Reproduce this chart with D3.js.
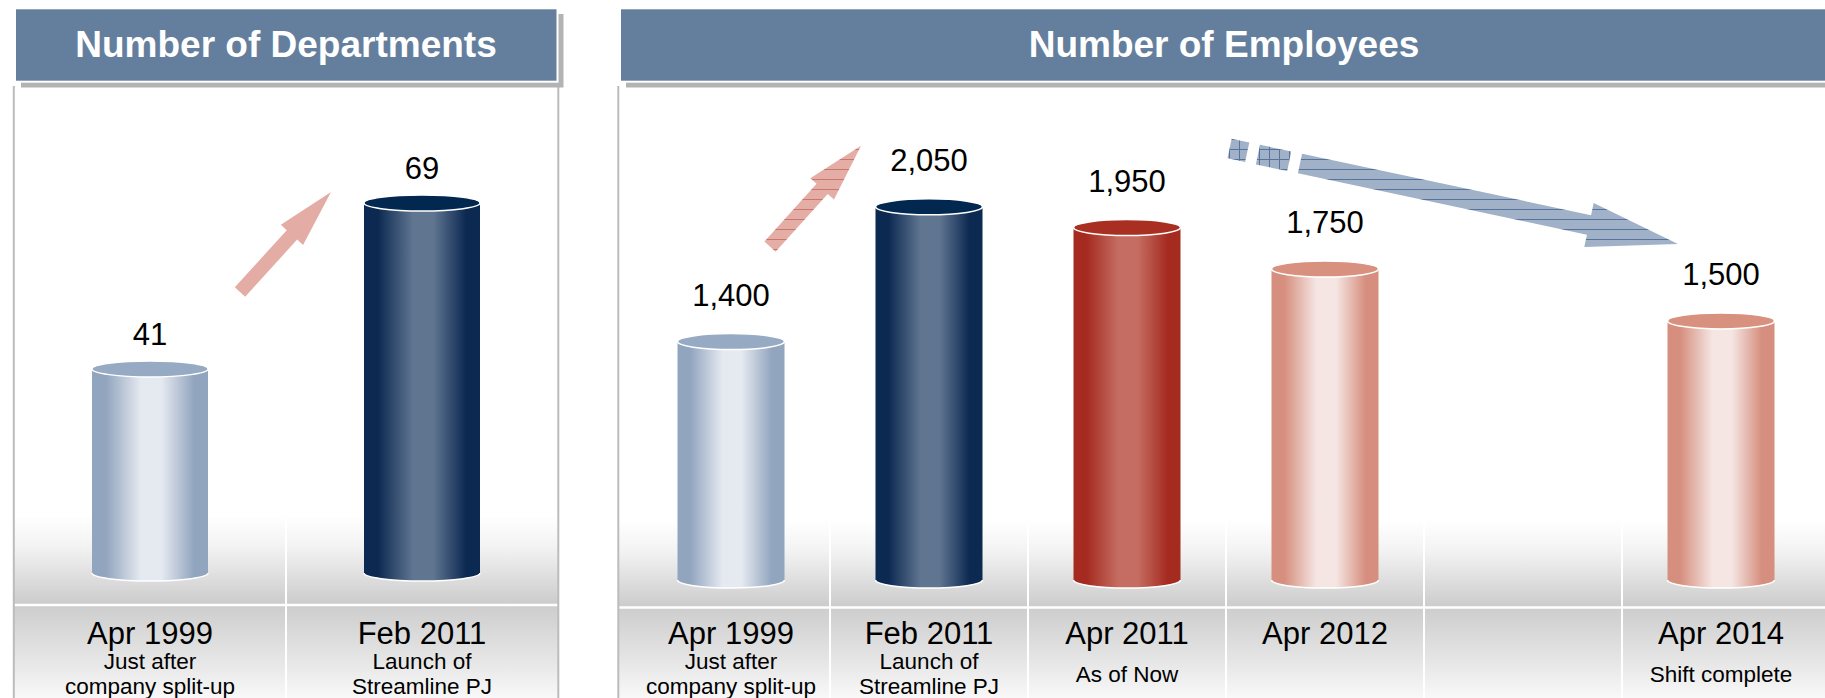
<!DOCTYPE html>
<html lang="en">
<head>
<meta charset="UTF-8">
<title>Departments and Employees</title>
<script src="https://cdnjs.cloudflare.com/ajax/libs/d3/7.8.5/d3.min.js"></script>
<style>
    body { margin: 0; background: #fff; }
    svg { display: block; font-family: "Liberation Sans", Arial, sans-serif; }
</style>
</head>
<body>
<script>
    // ---- data ----
    const deptCategories = ["Apr 1999", "Feb 2011"];
    const deptNotes = [["Just after", "company split-up"], ["Launch of", "Streamline PJ"]];
    const deptValues = [41, 69];
    const deptKinds = ["light", "navy"];

    const empCategories = ["Apr 1999", "Feb 2011", "Apr 2011", "Apr 2012", "", "Apr 2014"];
    const empNotes = [["Just after", "company split-up"], ["Launch of", "Streamline PJ"], ["As of Now"], [], [], ["Shift complete"]];
    const empValues = [1400, 2050, 1950, 1750, null, 1500];
    const empKinds = ["light", "navy", "red", "salmon", null, "salmon"];

    const palette = {
        light:  { edge: "#92a5bf", mid: "#e5e9f0", top: "#97aac3" },
        navy:   { edge: "#0c2952", mid: "#5f7590", top: "#032850" },
        red:    { edge: "#a52a1f", mid: "#c56d62", top: "#a82f22" },
        salmon: { edge: "#d68f7e", mid: "#f5e6e4", top: "#d9917f" }
    };

    const W = 1825, H = 698;
    const fmt = d3.format(",");

    const svg = d3.select("body").append("svg")
        .attr("width", W).attr("height", H);
    const defs = svg.append("defs");

    // gradients
    const up = defs.append("linearGradient").attr("id", "bandUp")
        .attr("x1", 0).attr("y1", 0).attr("x2", 0).attr("y2", 1);
    up.append("stop").attr("offset", 0).attr("stop-color", "#ffffff");
    up.append("stop").attr("offset", 0.35).attr("stop-color", "#f3f3f3");
    up.append("stop").attr("offset", 1).attr("stop-color", "#cbcbcb");

    const down = defs.append("linearGradient").attr("id", "bandDown")
        .attr("x1", 0).attr("y1", 0).attr("x2", 0).attr("y2", 1);
    down.append("stop").attr("offset", 0).attr("stop-color", "#cdcdcd");
    down.append("stop").attr("offset", 0.6).attr("stop-color", "#e6e6e6");
    down.append("stop").attr("offset", 1).attr("stop-color", "#f8f8f8");

    Object.entries(palette).forEach(([k, c]) => {
        const gr = defs.append("linearGradient").attr("id", "cyl-" + k)
            .attr("x1", 0).attr("y1", 0).attr("x2", 1).attr("y2", 0);
        [[0, c.edge], [0.12, c.edge], [0.42, c.mid], [0.6, c.mid], [0.88, c.edge], [1, c.edge]]
            .forEach(([o, col]) => gr.append("stop").attr("offset", o).attr("stop-color", col));
    });

    // hatch patterns for the arrows
    function hatch(id, bg, line, grid) {
        const p = defs.append("pattern").attr("id", id)
            .attr("patternUnits", "userSpaceOnUse").attr("width", 10).attr("height", 10);
        p.append("rect").attr("width", 10).attr("height", 10).attr("fill", bg);
        p.append("line").attr("x1", 0).attr("x2", 10).attr("y1", 9.5).attr("y2", 9.5)
            .attr("stroke", line).attr("stroke-width", 1);
        if (grid) p.append("line").attr("x1", 9.5).attr("x2", 9.5).attr("y1", 0).attr("y2", 10)
            .attr("stroke", line).attr("stroke-width", 1);
    }
    hatch("hatchRed", "#e4aea6", "#c9766d", false);
    hatch("hatchBlue", "#a0b1c8", "#56739c", false);
    hatch("gridBlue", "#a0b1c8", "#56739c", true);

    // arrow outline from tail to tip
    function arrowPoints(t, p, shaftW, headW, headLen) {
        const dx = p[0] - t[0], dy = p[1] - t[1];
        const len = Math.hypot(dx, dy);
        const u = [dx / len, dy / len], n = [-u[1], u[0]];
        const b = [p[0] - u[0] * headLen, p[1] - u[1] * headLen];
        const off = (pt, k) => [pt[0] + n[0] * k, pt[1] + n[1] * k];
        return [off(t, shaftW / 2), off(b, shaftW / 2), off(b, headW / 2), p,
                off(b, -headW / 2), off(b, -shaftW / 2), off(t, -shaftW / 2)];
    }
    function segPoints(t, dir, s0, s1, w) {
        const len = Math.hypot(dir[0], dir[1]);
        const u = [dir[0] / len, dir[1] / len], n = [-u[1], u[0]];
        const at = (s, k) => [t[0] + u[0] * s + n[0] * k, t[1] + u[1] * s + n[1] * k];
        return [at(s0, w / 2), at(s1, w / 2), at(s1, -w / 2), at(s0, -w / 2)];
    }

    // panel drawing
    function drawPanel(p) {
        const g = svg.append("g");
        const idx = d3.range(p.categories.length);
        const x = d3.scaleBand().domain(idx).range(p.band);

        // grey floor band
        g.append("rect").attr("x", p.x0).attr("y", p.fadeTop)
            .attr("width", p.x1 - p.x0).attr("height", p.line - p.fadeTop)
            .attr("fill", "url(#bandUp)");
        g.append("rect").attr("x", p.x0).attr("y", p.line)
            .attr("width", p.x1 - p.x0).attr("height", H - p.line)
            .attr("fill", "url(#bandDown)");
        g.append("line").attr("x1", p.x0).attr("x2", p.x1)
            .attr("y1", p.line).attr("y2", p.line)
            .attr("stroke", "#fff").attr("stroke-width", 2.5);
        g.selectAll("line.sep").data(idx.slice(1)).join("line").attr("class", "sep")
            .attr("x1", d => x(d)).attr("x2", d => x(d))
            .attr("y1", p.fadeTop).attr("y2", H)
            .attr("stroke", "#fff").attr("stroke-width", 2);

        // panel borders
        g.selectAll("line.border").data(p.borders).join("line").attr("class", "border")
            .attr("x1", d => d).attr("x2", d => d)
            .attr("y1", 86).attr("y2", H)
            .attr("stroke", "#bcbcbc").attr("stroke-width", 2);

        // header with shadow
        g.append("rect").attr("x", p.hx0 + 6).attr("y", 14)
            .attr("width", p.hx1 - p.hx0).attr("height", 73.5).attr("fill", "#b3b3b3");
        g.append("rect").attr("x", p.hx0).attr("y", 8.3)
            .attr("width", p.hx1 - p.hx0).attr("height", 73.4)
            .attr("fill", "#647f9e").attr("stroke", "#fff").attr("stroke-width", 2);
        g.append("text").attr("x", p.titleX).attr("y", 57)
            .attr("text-anchor", "middle").attr("fill", "#fff")
            .attr("font-size", 37).attr("font-weight", "bold")
            .text(p.title);

        // cylinders
        const bars = idx.filter(i => p.values[i] != null);
        const rx = p.cylW / 2, ry = 8;
        const cyl = g.selectAll("g.cyl").data(bars).join("g").attr("class", "cyl");
        cyl.append("path")
            .attr("d", i => {
                const cx = x(i) + x.bandwidth() / 2, top = p.y(p.values[i]);
                return `M${cx - rx},${top} L${cx - rx},${p.floor} A${rx},${ry} 0 0 0 ${cx + rx},${p.floor} L${cx + rx},${top} Z`;
            })
            .attr("fill", i => `url(#cyl-${p.kinds[i]})`);
        cyl.append("path")
            .attr("d", i => {
                const cx = x(i) + x.bandwidth() / 2;
                return `M${cx - rx},${p.floor} A${rx},${ry} 0 0 0 ${cx + rx},${p.floor}`;
            })
            .attr("fill", "none").attr("stroke", "#fff").attr("stroke-width", 1.5);
        cyl.append("ellipse")
            .attr("cx", i => x(i) + x.bandwidth() / 2)
            .attr("cy", i => p.y(p.values[i]))
            .attr("rx", rx).attr("ry", ry)
            .attr("fill", i => palette[p.kinds[i]].top)
            .attr("stroke", "#fff").attr("stroke-width", 1.5);

        // value labels
        g.selectAll("text.val").data(bars).join("text").attr("class", "val")
            .attr("x", i => x(i) + x.bandwidth() / 2)
            .attr("y", i => p.y(p.values[i]) - p.labelGap)
            .attr("text-anchor", "middle").attr("font-size", 31).attr("fill", "#000")
            .text(i => fmt(p.values[i]));

        // category labels
        g.selectAll("text.cat").data(idx).join("text").attr("class", "cat")
            .attr("x", i => x(i) + x.bandwidth() / 2).attr("y", 644)
            .attr("text-anchor", "middle").attr("font-size", 31).attr("fill", "#000")
            .text(i => p.categories[i]);
        idx.forEach(i => {
            const lines = p.notes[i];
            const ys = lines.length === 2 ? [669, 694] : [681.5];
            lines.forEach((t, k) => {
                g.append("text").attr("x", x(i) + x.bandwidth() / 2).attr("y", ys[k])
                    .attr("text-anchor", "middle").attr("font-size", 22.5).attr("fill", "#000")
                    .text(t);
            });
        });
        return x;
    }

    const yDept = d3.scaleLinear().domain([0, d3.max(deptValues)]).range([612, 203]);
    const xDept = drawPanel({
        title: "Number of Departments",
        categories: deptCategories, notes: deptNotes, values: deptValues, kinds: deptKinds,
        y: yDept, band: [14, 558], x0: 14, x1: 558, borders: [13.8, 558.3],
        hx0: 15, hx1: 557.5, titleX: 286,
        fadeTop: 515, line: 605, floor: 573, cylW: 116, labelGap: 24
    });

    const yEmp = d3.scaleLinear().domain([0, d3.max(empValues)]).range([632, 206.8]);
    const xEmp = drawPanel({
        title: "Number of Employees",
        categories: empCategories, notes: empNotes, values: empValues, kinds: empKinds,
        y: yEmp, band: [632, 1820], x0: 618, x1: W, borders: [618.3],
        hx0: 620, hx1: 1835, titleX: 1224,
        fadeTop: 520, line: 607.5, floor: 580, cylW: 107, labelGap: 36
    });

    // trend arrows, anchored to the bars they connect
    const cDept = i => xDept(i) + xDept.bandwidth() / 2;
    const cEmp = i => xEmp(i) + xEmp.bandwidth() / 2;
    const line = d3.line();

    const midD = (cDept(0) + cDept(1)) / 2;
    svg.append("path")
        .attr("d", line(arrowPoints([midD - 46, yDept(deptValues[0]) - 77], [midD + 45, yDept(deptValues[1]) - 11], 14, 30, 58)) + "Z")
        .attr("fill", "#e3aca4");

    const midE = (cEmp(0) + cEmp(1)) / 2;
    svg.append("path")
        .attr("d", line(arrowPoints([midE - 60, yEmp(empValues[0]) - 95], [midE + 31, yEmp(empValues[1]) - 61], 15, 32, 58)) + "Z")
        .attr("fill", "url(#hatchRed)");

    const tail = [cEmp(3) - 25, yEmp(empValues[2]) - 64];
    const tip = [cEmp(5) - 43, yEmp(empValues[5]) - 77];
    svg.append("path")
        .attr("d", line(arrowPoints(tail, tip, 20, 45, 91)) + "Z")
        .attr("fill", "url(#hatchBlue)");
    const dir = [tip[0] - tail[0], tip[1] - tail[1]];
    [[-72, -54], [-43, -11]].forEach(([s0, s1]) => {
        svg.append("path")
            .attr("d", line(segPoints(tail, dir, s0, s1, 20)) + "Z")
            .attr("fill", "url(#gridBlue)");
    });
</script>
</body>
</html>
